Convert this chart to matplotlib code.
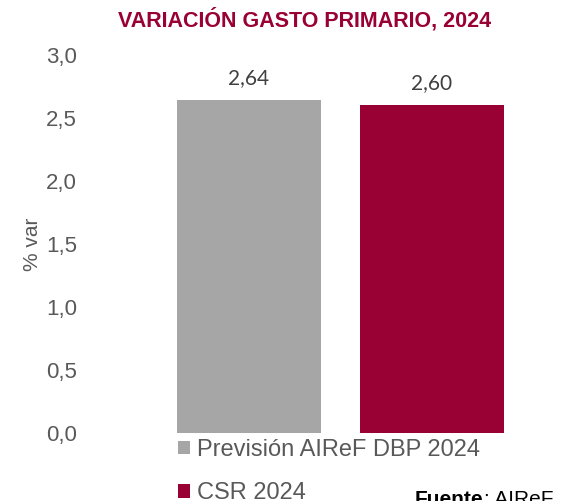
import matplotlib
matplotlib.use('Agg')
import matplotlib.pyplot as plt

# Data
categories = ['Previsión AIReF DBP 2024', 'CSR 2024']
values = [2.64, 2.60]
value_labels = ['2,64', '2,60']
colors = ['#a6a6a6', '#990033']
yticks = [0.0, 0.5, 1.0, 1.5, 2.0, 2.5, 3.0]
ytick_labels = ['0,0', '0,5', '1,0', '1,5', '2,0', '2,5', '3,0']

plt.rcParams['font.family'] = ['Liberation Sans', 'DejaVu Sans']

fig = plt.figure(figsize=(5.7, 5.01), dpi=100)
W, H = 570, 501
# axes placed in pixel terms
left, right, top, bottom = 157.5, 523.5, 55, 433
ax = fig.add_axes([left / W, (H - bottom) / H, (right - left) / W, (bottom - top) / H])

x = range(len(categories))
bars = ax.bar(x, values, width=0.787, color=colors)

# value labels above bars
for xi, v, lab in zip(x, values, value_labels):
    ax.text(xi, v + 0.18, lab, ha='center', va='center', fontsize=15,
            color='#404040', family=['Lato', 'DejaVu Sans'])

ax.set_xlim(-0.5, 1.5)
ax.set_ylim(0, 3.0)
ax.set_yticks(yticks)
ax.set_yticklabels(ytick_labels, fontsize=16, color='#595959')
ax.set_xticks([])
ax.tick_params(axis='y', length=0, pad=58)
for s in ax.spines.values():
    s.set_visible(False)

ax.set_ylabel('% var', fontsize=15, color='#595959')
ax.yaxis.set_label_coords(-0.315, 0.5)

# title
fig.text(305 / W, 1 - 20 / H, 'VARIACIÓN GASTO PRIMARIO, 2024', ha='center', va='center',
         fontsize=15.5, fontweight='bold', color='#990033')

# legend
fig.legend(handles=list(bars), labels=categories, loc='upper left',
           bbox_to_anchor=(178 / W, 1 - 439 / H), frameon=False, fontsize=17,
           handlelength=0.5, handleheight=0.5, handletextpad=0.3, labelspacing=0.9,
           labelcolor='#595959', borderaxespad=0, borderpad=0)

# source (cut off at the bottom right)
t1 = fig.text(415 / W, 1 - 490 / H, 'Fuente', ha='left', va='top', fontsize=15,
              fontweight='bold', color='black')
ax.annotate(': AIReF', xy=(1, 0), xycoords=t1, ha='left', va='bottom',
            fontsize=15, color='black', annotation_clip=False)

fig.savefig('out.png', dpi=100)
